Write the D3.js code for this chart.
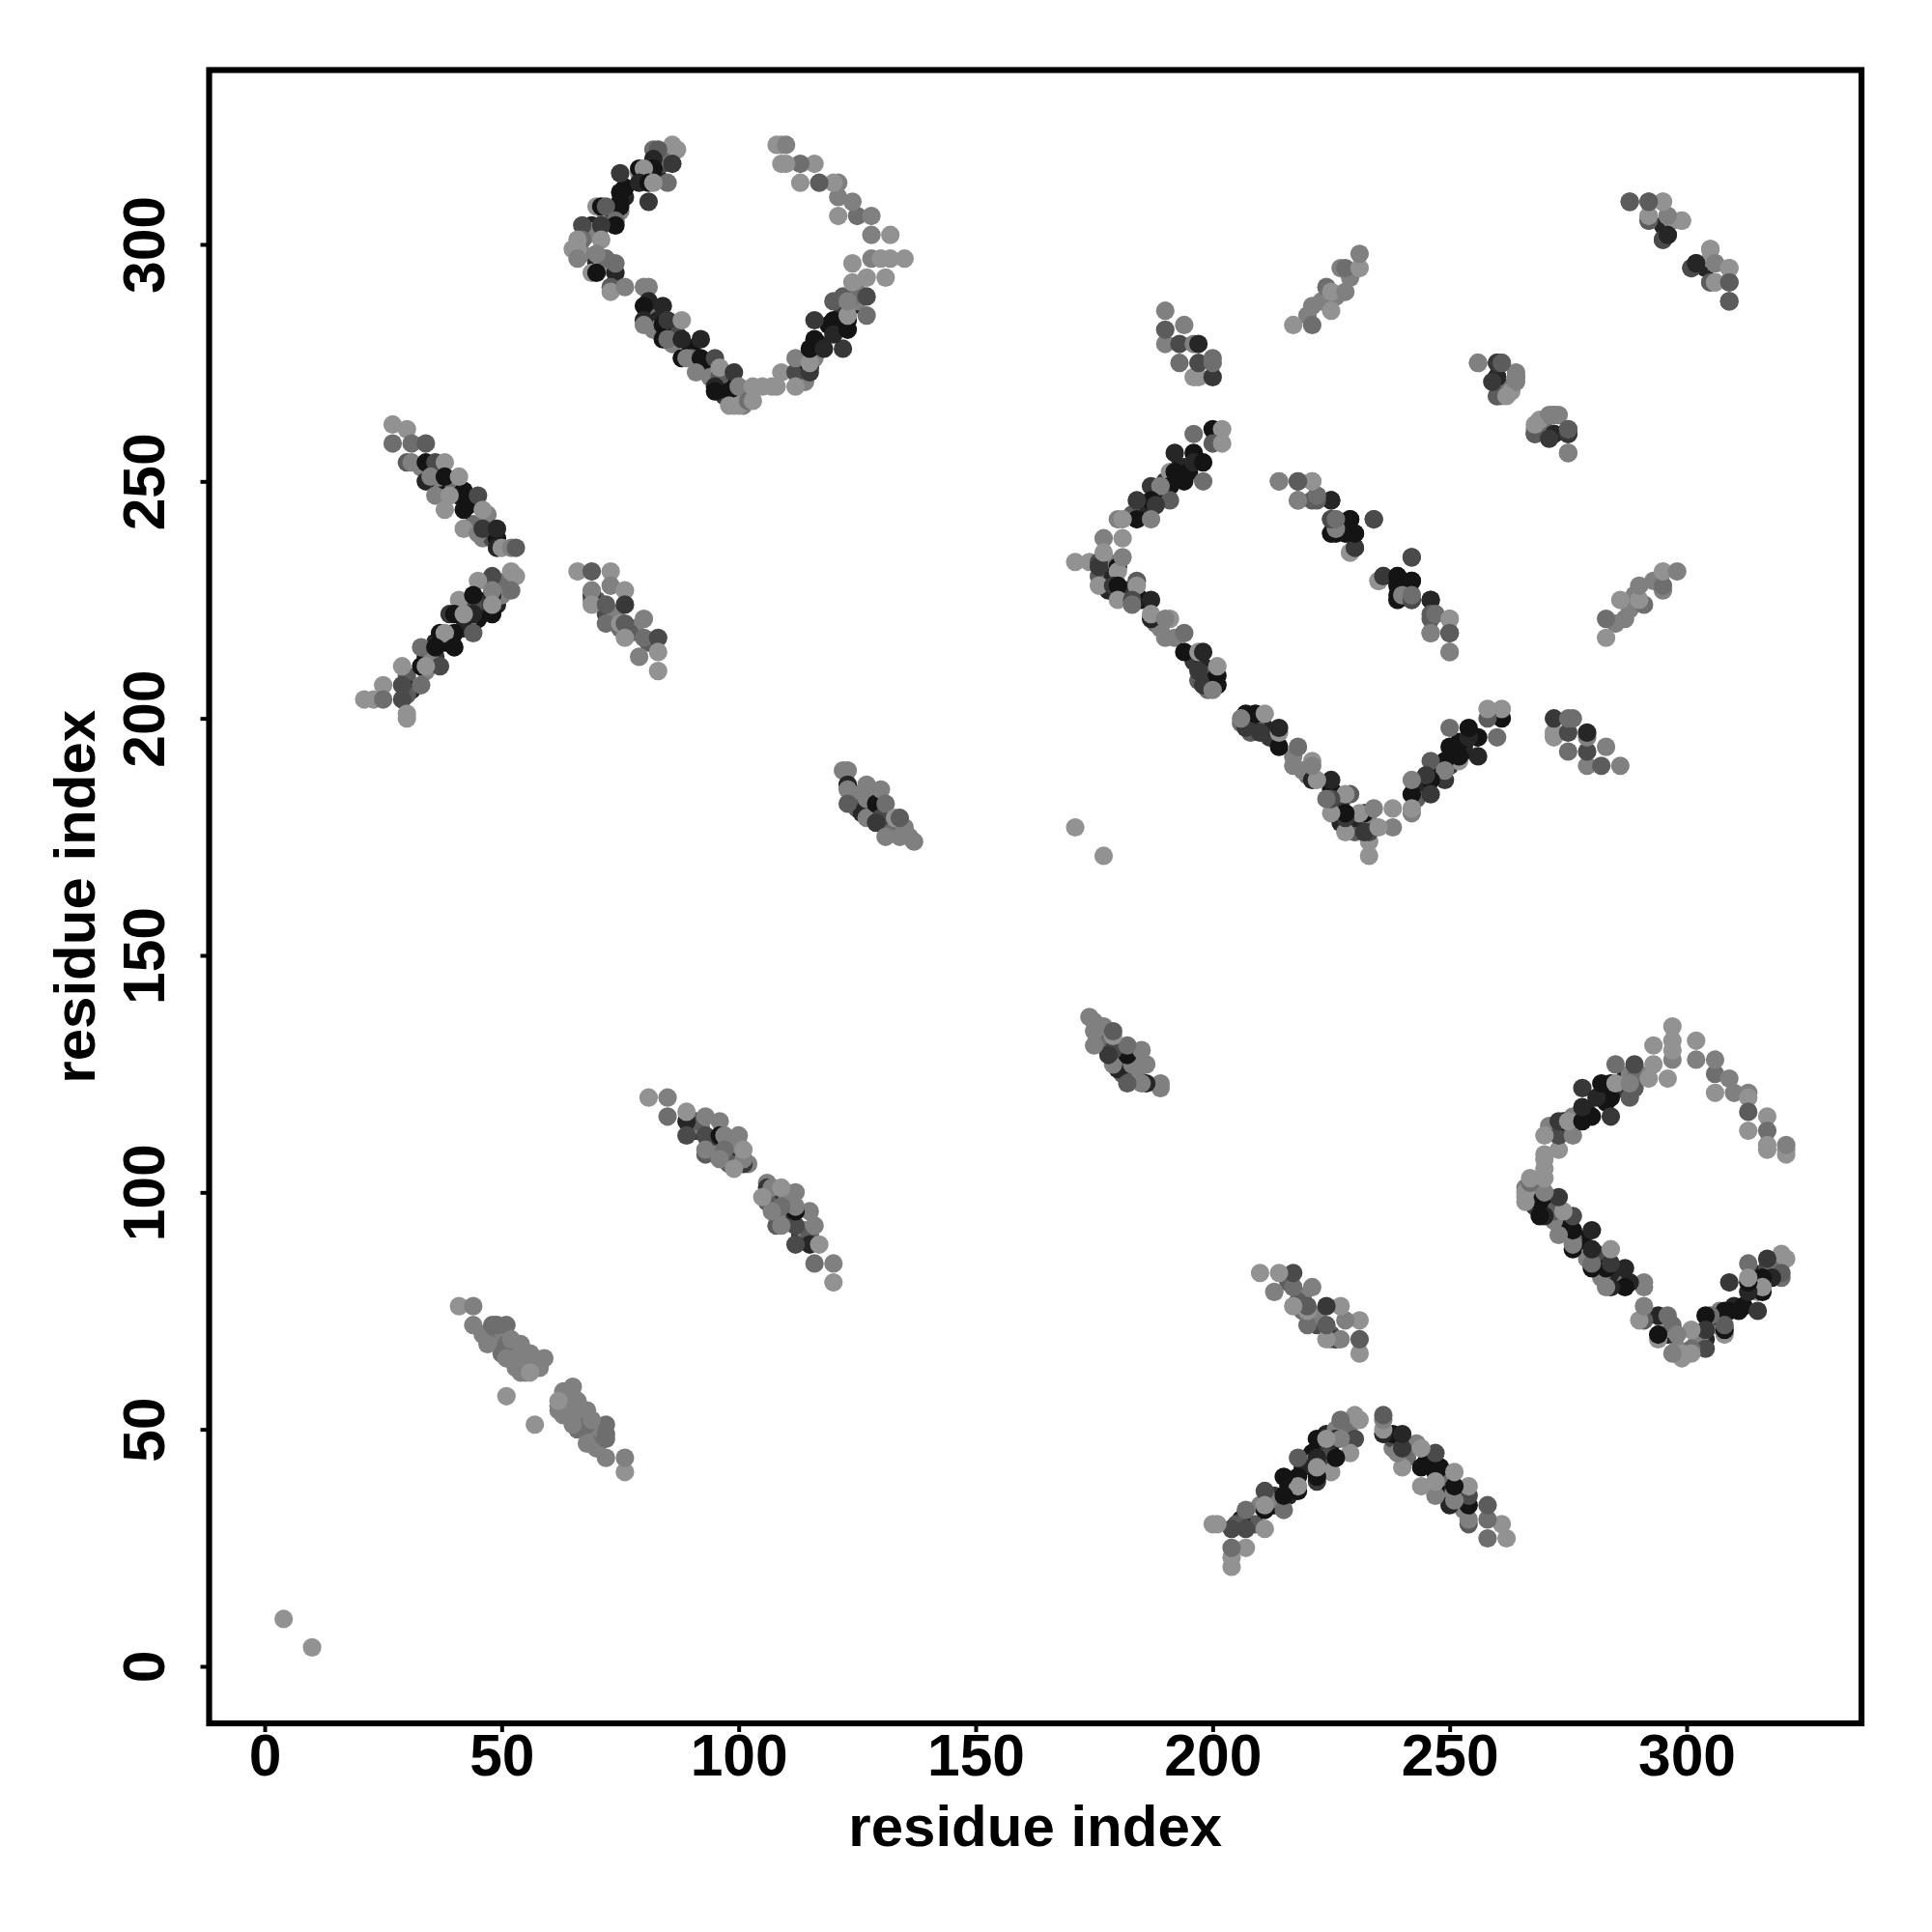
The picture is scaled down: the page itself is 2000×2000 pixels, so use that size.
<!DOCTYPE html>
<html><head><meta charset="utf-8">
<script src="https://cdnjs.cloudflare.com/ajax/libs/d3/7.8.5/d3.min.js"></script>
<style>html,body{margin:0;padding:0;background:#fff}</style></head>
<body><div id="chart"></div>
<script>
// Contacts: [residue i, residue j, darkness level 1 (darkest) .. 8 (lightest)]; drawn for (i,j) and (j,i).
const xTicks = [0, 50, 100, 150, 200, 250, 300];
const yTicks = [0, 50, 100, 150, 200, 250, 300];
const axisTitle = "residue index";

const ends = [[4,10,8],[171,177,8]];
const ringInnerContacts = [
[72,306,7],[69,304,2],[70,303,8],[68,302,7],[66,300,8],[65,299,8],[67,298,7],[70,296,2],[71,295,8],[72,297,6],[74,292,7],[74,306,1],[75,307,7],[76,310,2],[76,312,1],[80,314,1],[83,314,2],[84,317,4],[84,319,7],[85,318,6],[79,315,8],
[81,286,1],[82,285,6],[83,284,2],[82,282,7],[86,282,2],[87,281,4],[86,279,7],[90,278,1],[93,275,2],[90,276,6],[94,273,1],[94,272,7],[96,271,2],[97,270,1],[96,272,5],[97,268,3],[99,268,6],[101,269,7],[99,266,8],[101,266,7],
[113,272,5],[114,271,7],[113,275,3],[116,276,7],[117,279,2],[119,283,1],[121,283,7],[122,284,2],[122,286,3],[124,287,1],[125,288,7],[125,290,7],[124,289,6],[122,289,5]];
const armInnerContacts = [
[33,253,7],[36,252,3],[38,249,1],[37,250,7],[39,248,2],[40,249,6],[42,248,1],[43,246,1],[43,245,1],[47,243,7],[44,241,6],[46,238,7],[48,238,4],[49,238,1],
[49,228,3],[47,225,1],[48,225,7],[46,224,3],[49,224,2],[50,226,7],[51,229,6],[43,223,1],[44,224,4],[45,221,1],[43,221,7],[42,219,2],[39,217,1],[38,216,1],[36,216,2],[34,213,1],[36,213,3],[30,209,5],[31,206,2],[30,205,5],[34,210,7],[35,212,7],
[70,225,5],[72,222,4],[74,222,7],[75,219,6],[78,219,7],[77,218,5],[81,216,5],[69,225,7]];
const vInnerContacts = [
[188,247,1],[189,248,1],[190,250,3],[192,251,2],[193,253,1],[194,253,2],[186,244,4],[185,245,2],[183,243,5],[195,252,1],
[177,231,4],[178,233,7],[176,230,5],[179,230,2],[178,227,2],[181,226,5],[182,227,3],[184,226,6],[185,225,1],
[188,220,6],[189,219,7],[192,217,7],[196,212,3],[198,211,2],[199,209,5],[200,208,2],[199,206,6],[197,208,5]];
const nearInnerContacts = [
[125,184,7],[125,181,5],[128,184,8],[129,180,7],[132,178,5],[131,177,6],[135,177,7],[126,180,2],
[91,113,3],[92,114,7],[94,110,4],[95,111,3],[98,110,2],[99,108,6],[100,107,3],[98,106,5],[102,106,7],[95,108,7],[91,115,5],[100,110,7],
[46,70,7],[49,70,6],[50,68,7],[52,66,7],[50,66,6],[55,66,7],[53,63,7],[56,66,7],[58,63,7],[55,62,7],[50,71,7],
[223,288,7],[226,289,7],[229,293,7],[220,285,7]];
const ringUpperLeft = [
[86,321,8],[82,320,6],[83,320,5],[87,320,8],[82,318,2],[86,317,3],[85,313,6],[82,316,1],[79,316,1],[80,316,8],
[79,313,2],[81,313,1],[82,313,8],[81,309,3],[75,315,3],[75,311,1],[75,309,1],[75,308,1],[70,308,8],[71,308,1],[72,308,5],
[74,305,6],[74,304,1],[71,304,3],[67,304,4],[67,301,6],[66,301,8],[71,301,8],[66,299,8],[66,297,7],[70,298,7],
[69,294,8],[70,294,1],[74,294,2],[74,296,6],[73,291,5],[73,290,8],[76,291,7]];
const ringLowerLeft = [
[80,291,7],[81,291,7],[81,288,2],[80,287,1],[84,287,2],[80,284,2],[80,283,7],[84,283,1],[85,284,3],[88,284,8],
[84,280,1],[85,280,6],[88,280,2],[92,280,2],[88,276,1],[89,276,7],[92,276,1],[95,276,4],[91,273,7],[96,274,8],
[95,270,2],[95,269,1],[99,273,3],[98,269,1],[100,270,7],[98,266,8],[100,266,8],[102,267,6],[103,267,8],
[103,270,8],[105,270,8],[107,270,8],[108,270,8],[109,273,8]];
const ringLowerRight = [
[112,273,4],[112,270,8],[112,276,7],[115,274,1],[115,273,3],[115,275,8],[116,280,1],[115,278,1],[118,278,2],[122,278,3],
[116,284,3],[120,284,1],[120,281,2],[123,282,1],[123,284,1],[123,285,8],[120,288,5],[127,285,6],[123,288,7],[127,289,4],
[124,292,8],[124,296,8],[127,293,8],[131,293,8],[128,297,7],[130,297,8],[132,297,8],[135,297,8]];
const ringUpperRight = [
[128,302,7],[132,302,8],[125,306,6],[128,306,7],[121,306,8],[124,309,7],[121,310,7],[121,313,7],[120,313,8],[117,313,5],
[113,313,8],[116,317,8],[113,317,6],[109,317,8],[110,317,8],[108,321,8],[109,321,8],[110,321,7]];
const armUpper = [
[27,262,8],[30,261,8],[27,258,6],[31,258,6],[34,258,5],[30,254,5],[31,254,7],[34,254,1],[36,254,4],[38,254,8],
[34,250,2],[35,251,7],[38,251,1],[41,251,8],[37,247,1],[36,247,7],[41,247,1],[39,247,8],[45,247,4],[42,244,1],[38,244,8],[46,244,8],
[42,240,8],[45,239,7],[46,240,3],[49,240,2],[49,236,2],[50,236,8],[52,236,7],[53,236,5]];
const armLower = [
[48,230,4],[45,229,8],[52,231,8],[53,230,8],[52,227,6],[48,226,2],[48,227,7],[41,225,8],[44,226,1],[48,222,1],[48,224,8],
[44,222,2],[39,222,3],[40,222,1],[42,222,8],[44,218,5],[40,218,1],[37,218,1],[38,218,8],[33,215,6],[36,215,1],[40,215,1],
[37,211,4],[33,211,1],[34,211,8],[29,211,8],[33,207,6],[29,207,4],[25,207,8],[29,204,4],[21,204,8],[23,204,8],[25,204,6],[30,200,8],[30,201,8]];
const sideCluster = [
[66,231,8],[69,231,5],[73,231,8],[69,226,3],[69,227,7],[69,224,8],[73,228,7],[76,227,8],[72,224,5],[76,224,3],
[72,220,6],[75,220,8],[76,220,5],[80,221,7],[76,217,8],[80,217,6],[83,217,4],[79,213,7],[83,214,8],[83,210,8]];
const vUpperArm = [
[200,261,1],[202,261,8],[200,258,5],[202,258,8],[196,260,6],[192,256,2],[196,256,1],[196,254,2],[198,254,1],[198,250,6],
[191,252,8],[192,252,1],[194,250,1],[191,249,1],[191,246,5],[187,249,3],[189,249,7],[187,246,1],[188,245,3],[184,246,3],[184,242,1],[187,242,7],
[180,242,7],[181,242,8],[177,238,7],[181,238,8]];
const vVertex = [
[171,233,8],[174,233,8],[176,233,4],[176,232,3],[177,235,8],[180,232,1],[180,231,8],[181,234,7],[176,228,8],[179,228,3],[180,228,1],
[180,225,8],[184,229,5],[184,228,8],[183,225,4],[183,224,6],[187,225,2]];
const vLowerArm = [
[187,221,2],[187,222,8],[190,217,7],[191,221,8],[190,221,7],[194,218,6],[194,214,1],[197,214,8],[198,214,2],[197,210,3],[198,207,3],
[201,209,1],[201,207,1],[200,206,7],[201,211,8]];
const strand = [
[214,250,8],[218,250,5],[221,250,8],[218,246,7],[221,246,5],[222,247,6],[225,246,3],[225,242,4],[226,242,6],[229,242,1],[234,242,4],
[225,239,8],[226,239,1],[226,240,7],[229,235,8],[230,236,3],[229,239,1],[230,239,1],[242,234,4],[235,229,8],[236,230,3],[239,228,1],[239,230,1],[242,229,1],
[239,225,1],[240,226,7],[242,225,4],[242,226,6],[246,225,2],[246,222,5],[247,222,6],[250,221,8],[246,218,7],[250,218,5],[250,214,7]];
const lowerRightCluster = [
[196,272,8],[197,272,8],[200,272,3],[190,279,7],[193,279,4],[193,275,6],[196,279,7],[197,279,2],[197,275,4],[200,275,6],[200,276,6],[190,282,5],[190,286,7],[194,283,7]];
const diagonalFan = [
[217,283,8],[221,283,6],[221,287,7],[225,286,8],[224,291,6],[225,290,8],[228,290,7],[227,295,7],[228,295,6],[231,295,8],[231,298,7]];
const hairpinA = [
[288,309,5],[292,309,5],[295,309,8],[292,305,5],[292,306,8],[295,304,2],[296,302,2],[295,301,4],[296,306,6],[297,305,8],[299,305,8],
[301,295,4],[302,296,2],[305,299,8],[306,296,7],[309,295,8],[305,292,5],[306,292,8],[309,292,5],[309,288,5]];
const hairpinB = [
[256,275,7],[260,275,3],[261,275,5],[260,272,2],[260,268,4],[261,268,7],[261,270,6],[263,269,8],[264,272,7],[264,271,7],
[268,260,5],[268,262,8],[272,260,2],[271,259,3],[272,264,7],[273,264,7],[275,260,3],[275,261,5],[275,256,7]];
const midCluster = [
[122,189,7],[123,189,7],[123,186,2],[123,185,7],[123,182,5],[127,182,2],[127,183,7],[127,186,7],[127,179,7],
[129,182,1],[130,179,4],[130,185,7],[131,182,6],[129,178,3],[133,179,8],[134,179,5],[131,175,7],[134,175,7],[137,174,7],[136,175,7]];
const nearA = [
[81,120,8],[85,120,7],[85,116,6],[89,115,2],[89,117,8],[89,112,4],[93,116,7],[96,115,7],[93,112,4],[93,108,5],[93,109,7],
[96,112,1],[97,112,7],[100,112,7],[97,109,6],[96,107,7],[101,106,3],[101,107,7],[101,109,8],[99,105,8]];
const nearB = [
[41,76,8],[44,76,7],[44,72,7],[48,72,6],[49,72,6],[51,72,6],[47,68,7],[51,68,6],[52,69,7],[54,68,7],[51,65,7],[53,65,7],
[55,64,7],[57,65,7],[59,65,7],[54,62,7],[56,62,8],[51,57,8]];

const contacts = [].concat(ringInnerContacts, armInnerContacts, vInnerContacts, nearInnerContacts,
  ends, ringUpperLeft, ringLowerLeft, ringLowerRight, ringUpperRight, armUpper, armLower, sideCluster,
  vUpperArm, vVertex, vLowerArm, strand, lowerRightCluster, diagonalFan, hairpinA, hairpinB, midCluster, nearA, nearB);
const marks = contacts.flatMap(([i, j, l]) => [{x:i, y:j, l}, {x:j, y:i, l}]);

const boxLeft = 216.5, boxRight = 1927, boxTop = 72.5, boxBottom = 1784;
const xScale = d3.scaleLinear().domain([0, 300]).range([274, 1746]);
const yScale = d3.scaleLinear().domain([0, 300]).range([1725, 253]);
const shade = d3.scaleLinear().domain([1, 8]).range(["#141414", "#929292"]);

const svg = d3.select("#chart").append("svg").attr("width", 2000).attr("height", 2000)
  .style("display", "block").style("background", "#fff")
  .style("font-family", "'Liberation Sans', Arial, sans-serif").style("font-weight", "bold");

svg.append("g").selectAll("circle").data(marks).join("circle")
  .attr("cx", d => xScale(d.x)).attr("cy", d => yScale(d.y)).attr("r", 9.6).attr("fill", d => shade(d.l));

svg.append("rect").attr("x", boxLeft).attr("y", boxTop).attr("width", boxRight - boxLeft).attr("height", boxBottom - boxTop)
  .attr("fill", "none").attr("stroke", "#000").attr("stroke-width", 6.2);

const gx = svg.append("g").attr("transform", `translate(0,${boxBottom})`)
  .call(d3.axisBottom(xScale).tickValues(xTicks).tickSize(9));
const gy = svg.append("g").attr("transform", `translate(${boxLeft},0)`)
  .call(d3.axisLeft(yScale).tickValues(yTicks).tickSize(9));
[gx, gy].forEach(g => {
  g.select(".domain").remove();
  g.selectAll(".tick line").attr("stroke", "#000").attr("stroke-width", 4);
  g.selectAll(".tick text").attr("fill", "#000").style("font-size", "60.5px").style("font-weight", "bold")
   .style("font-family", "'Liberation Sans', Arial, sans-serif").attr("dy", 0).attr("text-anchor", "middle");
});
gx.selectAll(".tick text").attr("y", 54);
gy.selectAll(".tick text").attr("x", 0).attr("y", -46.5).attr("transform", "rotate(-90)");

svg.append("text").attr("x", (boxLeft + boxRight) / 2).attr("y", 1911).attr("text-anchor", "middle")
  .style("font-size", "60px").text(axisTitle);
svg.append("text").attr("transform", `translate(98,${(boxTop + boxBottom) / 2}) rotate(-90)`).attr("text-anchor", "middle")
  .style("font-size", "60px").text(axisTitle);
</script></body></html>
